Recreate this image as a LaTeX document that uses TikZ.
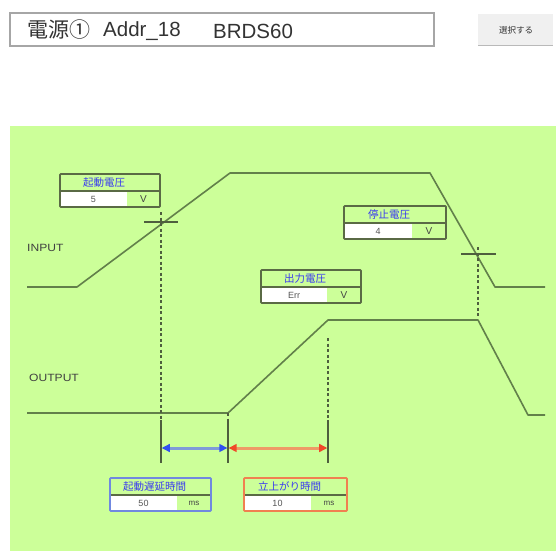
\documentclass[tikz,border=0pt]{standalone}
\usepackage{fontspec}
\setmainfont{Liberation Sans}
\newfontfamily\jp{Noto Sans CJK JP}
\definecolor{bggreen}{HTML}{CCFF99}
\definecolor{wave}{HTML}{62804A}
\definecolor{dashc}{HTML}{4E5E3E}
\definecolor{boxc}{HTML}{5A6A45}
\definecolor{hdrblue}{HTML}{3A3AF0}
\definecolor{valgray}{HTML}{555555}
\definecolor{bluebox}{HTML}{7088E0}
\definecolor{orangebox}{HTML}{F08050}
\definecolor{arrblue}{HTML}{7F9AD8}
\definecolor{tipblue}{HTML}{3050F0}
\definecolor{arrorange}{HTML}{EE9A66}
\definecolor{tipred}{HTML}{F04828}
\tikzset{
  waveline/.style={wave, line width=1.6pt, line join=round},
  dashline/.style={dashc, line width=1.3pt, dash pattern=on 3pt off 2.5pt},
  solidmark/.style={dashc, line width=1.3pt},
  hdr/.style={font=\jp\fontsize{10.5}{12}\selectfont, text=hdrblue, inner sep=0pt},
  val/.style={font=\fontsize{9}{10}\selectfont, text=valgray, inner sep=0pt},
  unit/.style={font=\fontsize{10}{11}\selectfont, text=valgray!80!black, inner sep=0pt},
  lbl/.style={font=\fontsize{10.5}{12}\selectfont, text=black!75, inner sep=0pt, anchor=west, xscale=1.15},
  shaft/.style={line width=3pt, shorten <=5pt, shorten >=5pt},
}
% #1 name, #2 left, #3 top, #4 right, #5 white end, #6 header, #7 value, #8 unit, #9 border colour
\newcommand\parambox[9]{%
  \fill[white] ({#2},{#3+17}) rectangle ({#5},{#3+33});
  \draw[boxc, line width=1.4pt] ({#2},{#3+17}) -- ({#4},{#3+17});
  \draw[#9, line width=1.6pt, rounded corners=0.8pt] ({#2},{#3}) rectangle ({#4},{#3+33});
  \node[hdr] (#1h) at ({(#2+#4)/2-6},{#3+8.8}) {#6};
  \node[val] (#1v) at ({(#2+#5)/2},{#3+25.3}) {#7};
  \node[unit] (#1u) at ({(#5+#4)/2},{#3+25.3}) {#8};
}
% arrow tips: #1 colour, #2 point, #3 direction (+1 pointing left, -1 pointing right)
\newcommand\tipat[3]{\fill[#1] (#2) -- ++({#3*8},-4.2) -- ++(0,8.4) -- cycle;}
\begin{document}
\begin{tikzpicture}[x=1pt,y=-1pt]
\useasboundingbox (0,0) rectangle (556,551);
\fill[white] (0,0) rectangle (556,551);
% header bar
\draw[gray!70, line width=1.6pt, fill=white] (10,13) rectangle (434,46);
\node[font=\jp\fontsize{21}{24}\selectfont, text=black!80, inner sep=0pt, anchor=west] (t1) at (27,30) {電源①};
\node[font=\fontsize{20.5}{24}\selectfont, text=black!80, inner sep=0pt, anchor=west] (t2) at (103,31) {Addr\_18};
\node[font=\fontsize{20.5}{24}\selectfont, text=black!80, inner sep=0pt, anchor=west] (t3) at (213,31) {BRDS60};
% button
\fill[gray!12] (478,14) rectangle (553,45);
\draw[gray!55, line width=1.2pt] (478,45.5) -- (553,45.5);
\node[font=\jp\fontsize{8.5}{9}\selectfont, text=black!80, inner sep=0pt] (btn) at (516,30) {選択する};
% green panel
\fill[bggreen] (10,126) rectangle (556,551);
% labels
\node[lbl] (inlbl) at (27,248) {INPUT};
\node[lbl] (outlbl) at (29,378) {OUTPUT};
% key points
\coordinate (i0) at (27,287);
\coordinate (i1) at (77,287);
\coordinate (i2) at (230,173);
\coordinate (i3) at (430,173);
\coordinate (i4) at (495,287);
\coordinate (i5) at (545,287);
\coordinate (o0) at (27,413);
\coordinate (o1) at (228,413);
\coordinate (o2) at (328,320);
\coordinate (o3) at (478,320);
\coordinate (o4) at (528,415);
\coordinate (o5) at (545,415);
% waveforms
\draw[waveline] (i0) -- (i1) -- (i2) -- (i3) -- (i4) -- (i5);
\draw[waveline] (o0) -- (o1) -- (o2) -- (o3) -- (o4) -- (o5);
% start mark
\draw[dashc, line width=1.2pt] (144,222) -- (178,222);
\draw[dashline] (161,212) -- (161,420);
\draw[solidmark] (161,420) -- (161,463);
% stop mark
\draw[dashc, line width=1.2pt] (461,254) -- (496,254);
\draw[dashline] (478,247) -- (478,318);
% output marks
\draw[dashline] (228,413) -- (228,420);
\draw[solidmark] (228,420) -- (228,463);
\draw[dashline] (328,338) -- (328,420);
\draw[solidmark] (328,420) -- (328,463);
% arrows
\coordinate (a0) at (161.8,448);
\coordinate (a1l) at (227.3,448);
\coordinate (a1r) at (228.7,448);
\coordinate (a2) at (327.2,448);
\draw[arrblue, shaft] (a0) -- (a1l);
\draw[arrorange, shaft] (a1r) -- (a2);
\tipat{tipblue}{a0}{1}
\tipat{tipblue}{a1l}{-1}
\tipat{tipred}{a1r}{1}
\tipat{tipred}{a2}{-1}
% parameter boxes
\parambox{sv}{60}{174}{160}{127}{起動電圧}{5}{V}{boxc}
\parambox{pv}{344}{206}{446}{412}{停止電圧}{4}{V}{boxc}
\parambox{ov}{261}{270}{361}{327}{出力電圧}{Err}{V}{boxc}
\parambox{dl}{110}{478}{211}{177}{起動遅延時間}{50}{\fontsize{8}{9}\selectfont ms}{bluebox}
\parambox{rt}{244}{478}{347}{311}{立上がり時間}{10}{\fontsize{8}{9}\selectfont ms}{orangebox}
\end{tikzpicture}
\end{document}
